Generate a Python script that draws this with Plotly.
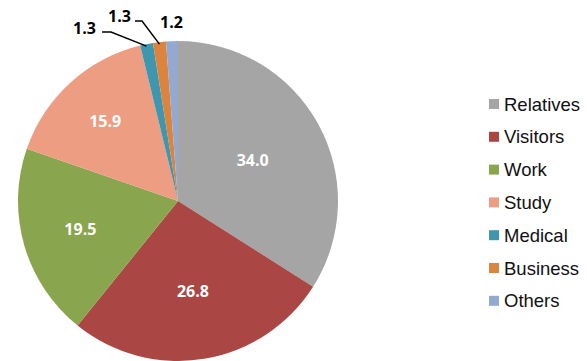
import math
import plotly.graph_objects as go

# Purpose of visit, share (%)
categories = ["Relatives", "Visitors", "Work", "Study", "Medical", "Business", "Others"]
shares = [34.0, 26.8, 19.5, 15.9, 1.3, 1.3, 1.2]
colors = ["#A5A5A5", "#AA4643", "#89A54E", "#EC9D82", "#3F97AF", "#DB843D", "#93A9CF"]

W, H = 587, 361
CX, CY, R = 178, 201, 160          # pie centre and radius in pixels
SMALL = 5.0                        # slices below this get outside callouts

def px(x):
    return x / W

def py(y):
    return 1 - y / H

big = [v >= SMALL for v in shares]

fig = go.Figure(
    go.Pie(
        labels=categories,
        values=shares,
        sort=False,
        direction="clockwise",
        rotation=0,
        marker=dict(colors=colors, line=dict(width=0)),
        texttemplate=["%{value:.1f}" if b else "" for b in big],
        textposition=["inside" if b else "none" for b in big],
        insidetextorientation="horizontal",
        insidetextfont=dict(family="Open Sans", size=16, color="white", weight="bold"),
        showlegend=False,
        hoverinfo="label+value",
        domain=dict(x=[px(CX - R), px(CX + R)], y=[0, py(CY - R)]),
    )
)

shapes = []
annotations = []

# Callouts for the thin slices at the top of the pie
label_pos = {"Medical": (84, 28), "Business": (119, 16), "Others": (171, 22)}
elbow = {"Medical": [(102, 32), (111, 32)], "Business": [(135, 21), (142, 21)], "Others": None}
total = sum(shares)
cum = 0.0
for cat, v in zip(categories, shares):
    mid = (cum + v / 2) / total * 2 * math.pi
    cum += v
    if v >= SMALL:
        continue
    tx = CX + R * math.sin(mid)
    ty = CY - R * math.cos(mid)
    lx, ly = label_pos[cat]
    annotations.append(dict(
        x=px(lx), y=py(ly), xref="paper", yref="paper", showarrow=False,
        text=f"{v:.1f}", xanchor="center", yanchor="middle",
        font=dict(family="Open Sans", size=16, color="black", weight="bold"),
    ))
    pts = elbow[cat]
    if pts:
        path = "M {} {}".format(px(pts[0][0]), py(pts[0][1]))
        for (x, y) in pts[1:] + [(tx, ty + 2)]:
            path += " L {} {}".format(px(x), py(y))
        shapes.append(dict(type="path", xref="paper", yref="paper", path=path,
                           line=dict(color="black", width=1.5)))

# Legend: coloured squares with category names
for i, (cat, col) in enumerate(zip(categories, colors)):
    yc = 104 + 32.8 * i
    shapes.append(dict(type="rect", xref="paper", yref="paper",
                       x0=px(489), x1=px(499), y0=py(yc - 5), y1=py(yc + 5),
                       fillcolor=col, line=dict(width=0)))
    annotations.append(dict(
        x=px(502), y=py(yc), xref="paper", yref="paper", showarrow=False,
        text=cat, xanchor="left", yanchor="middle",
        font=dict(family="Arial, Liberation Sans, sans-serif", size=18.5, color="#111111"),
    ))

fig.update_layout(
    width=W, height=H,
    margin=dict(l=0, r=0, t=0, b=0),
    paper_bgcolor="white",
    plot_bgcolor="white",
    shapes=shapes,
    annotations=annotations,
)

fig.write_html("out.html")
